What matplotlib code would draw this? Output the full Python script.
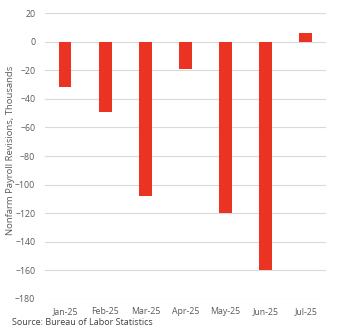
import matplotlib.pyplot as plt

months = ['Jan-25', 'Feb-25', 'Mar-25', 'Apr-25', 'May-25', 'Jun-25', 'Jul-25']
revisions = [-32, -49, -108, -19, -120, -160, 6]
y_ticks = [20, 0, -20, -40, -60, -80, -100, -120, -140, -160, -180]

plt.rcParams['font.family'] = ['Open Sans', 'DejaVu Sans']

fig = plt.figure(figsize=(3.42, 3.35), dpi=100)
ax = fig.add_axes([0.1316, 0.1075, 0.8214, 0.8535])

x = range(len(months))
ax.bar(x, revisions, width=0.32, color='#ea3323', zorder=3)

ax.set_xlim(-0.5, len(months) - 0.5)
ax.set_ylim(-180, 20)
ax.set_yticks(y_ticks)
ax.set_xticks(list(x))
ax.set_xticklabels(months)

ax.grid(axis='y', color='#d9d9d9', linewidth=0.8, zorder=0)
for s in ax.spines.values():
    s.set_visible(False)
ax.tick_params(length=0, labelsize=6.3, colors='#595959')
ax.tick_params(axis='y', pad=7)
ax.tick_params(axis='x', pad=6)

ax.set_ylabel('Nonfarm Payroll Revisions, Thousands', fontsize=6.8, color='#595959')
ax.yaxis.set_label_coords(-0.107, 0.52)
fig.text(0.035, 0.03, 'Source: Bureau of Labor Statistics', fontsize=6.5, color='#404040')

fig.savefig('out.png', dpi=100, facecolor='white')
